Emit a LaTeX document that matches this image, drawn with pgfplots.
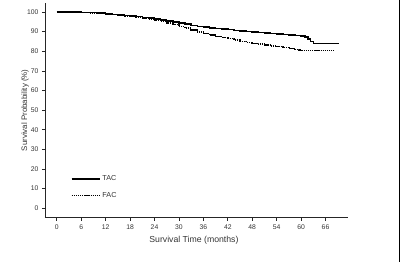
\documentclass[border=0pt]{standalone}
\usepackage{pgfplots}
\usepackage{pgfplotstable}
\pgfplotsset{compat=1.18}
\usepackage{fontspec}
\setmainfont{Liberation Sans}

% Kaplan-Meier estimates (months, % surviving)
\pgfplotstableread{
t s
0 100
2 100
4 99.9
6 99.8
8 99.7
10 99.4
12 99.0
13.5 98.8
15 98.6
16.5 98.3
18 98.1
19.5 97.7
21 97.3
22.5 96.9
24 96.4
25.5 95.9
27 95.3
28.5 94.8
30 94.3
31.5 93.8
33 93.2
34.5 92.7
36 92.3
37.5 91.9
39 91.6
40.5 91.3
42 91.0
43.5 90.6
45 90.3
46.5 90.0
48 89.7
49.5 89.5
51 89.2
52.5 89.0
54 88.8
55.5 88.6
57 88.3
58.5 88.1
60 87.8
61 87.3
61.7 86.2
62.3 85.0
63 84.0
69.2 84.0
}\tacdata
\pgfplotstableread{
t s
0 100
2 100
4 99.9
6 99.7
8 99.6
10 99.3
12 99.0
13.5 98.7
15 98.4
16.5 98.1
18 97.8
19.5 97.4
21 97.0
22.5 96.5
24 95.9
25.5 95.2
27 94.5
28.5 93.6
30 92.7
31.5 91.8
33 90.9
34.5 89.9
36 89.0
37.5 88.3
39 87.6
40.5 87.0
42 86.4
43.5 85.7
45 85.0
46.5 84.5
48 84.0
49.5 83.6
51 83.2
52.5 82.8
54 82.4
55.5 82.0
57 81.5
58.5 81.0
59.5 80.6
60.2 80.3
68 80.3
}\facdata

\begin{document}
\begin{tikzpicture}
\path[use as bounding box] (0,0) rectangle (400pt,262pt);
\begin{axis}[
  at={(45pt,44.3pt)}, anchor=south west,
  scale only axis,
  width=303.3pt, height=214.7pt,
  xmin=-2.9, xmax=71.6,
  ymin=-4.8, ymax=104.6,
  axis lines=left,
  axis line style={-, line width=0.9pt, black!85},
  xtick={0,6,...,66},
  ytick={0,10,...,100},
  tick align=outside,
  major tick length=3pt,
  tick style={line width=0.7pt, black!85},
  /pgf/number format/assume math mode=true,
  ticklabel style={font=\fontsize{6.8}{8}\selectfont, text=black!80},
  xticklabel style={yshift=-1pt},
  xlabel={Survival Time (months)},
  ylabel={Survival Probability (\%)},
  xlabel style={font=\fontsize{8.7}{10}\selectfont, text=black!80, at={(axis description cs:0.491,-0.104)}, anchor=center},
  ylabel style={font=\fontsize{7.9}{9}\selectfont, text=black!80, at={(axis description cs:-0.066,0.5)}, anchor=center},
  legend style={draw=none, fill=none, at={(axis description cs:0.075,0.215)}, anchor=north west,
    font=\fontsize{7.2}{8}\selectfont, text=black!80, row sep=6pt},
  legend cell align=left,
  legend image code/.code={\draw[#1] (0pt,0pt) -- (28pt,0pt);},
]
\addplot[const plot, line width=1.5pt, black] table[x=t, y=s] {\tacdata};
\addlegendentry{TAC}
\addplot[const plot, line width=1.5pt, black, dash pattern=on 1.3pt off 0.8pt] table[x=t, y=s] {\facdata};
\addlegendentry{FAC}
\end{axis}
\draw[line width=0.9pt, black] (399.3pt,0) -- (399.3pt,262pt);
\end{tikzpicture}
\end{document}
